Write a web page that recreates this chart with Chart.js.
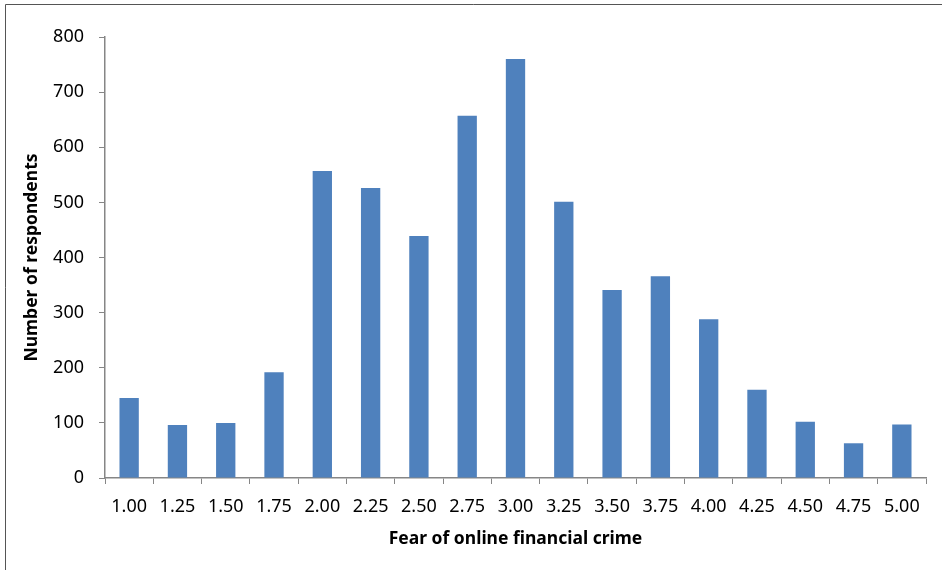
<!DOCTYPE html>
<html>
<head>
<meta charset="utf-8">
<script src="https://cdn.jsdelivr.net/npm/chart.js@4"></script>
<style>
  html, body { margin: 0; padding: 0; background: #fff; }
  #wrap { width: 942px; height: 570px; position: relative; }
</style>
</head>
<body>
<div id="wrap"><canvas id="chart" width="942" height="570"></canvas></div>
<script>
// --- data ---
const scoreLabels = ['1.00', '1.25', '1.50', '1.75', '2.00', '2.25', '2.50', '2.75', '3.00',
                     '3.25', '3.50', '3.75', '4.00', '4.25', '4.50', '4.75', '5.00'];
const respondents = [145, 96, 100, 192, 557, 526, 439, 657, 760,
                     501, 341, 366, 288, 160, 102, 63, 97];
const yTicks = [0, 100, 200, 300, 400, 500, 600, 700, 800];

const axisGrey = '#868686';
const barBlue = '#4F81BD';

// thin frame on left/top edges (image is cropped on the other sides)
const framePlugin = {
  id: 'frame',
  afterDraw(chart) {
    const ctx = chart.ctx;
    ctx.save();
    ctx.strokeStyle = '#555';
    ctx.lineWidth = 1;
    ctx.beginPath();
    ctx.moveTo(5.5, 570);
    ctx.lineTo(5.5, 4.5);
    ctx.lineTo(942, 4.5);
    ctx.stroke();
    ctx.restore();
  }
};

new Chart(document.getElementById('chart'), {
  type: 'bar',
  data: {
    labels: scoreLabels,
    datasets: [{
      data: respondents,
      backgroundColor: barBlue,
      borderWidth: 0,
      categoryPercentage: 1.0,
      barPercentage: 0.4
    }]
  },
  plugins: [framePlugin],
  options: {
    responsive: false,
    animation: false,
    devicePixelRatio: 1,
    layout: { padding: { top: 37, right: 16, left: 0, bottom: 0 } },
    plugins: {
      legend: { display: false },
      tooltip: { enabled: false }
    },
    scales: {
      x: {
        grid: { drawOnChartArea: false, drawTicks: true, tickLength: 6, color: axisGrey, offset: true },
        border: { display: true, color: axisGrey, width: 1.5 },
        ticks: { color: '#000', font: { family: 'Noto Sans', size: 18 }, padding: 12, maxRotation: 0, autoSkip: false },
        title: {
          display: true,
          text: 'Fear of online financial crime',
          color: '#000',
          font: { family: 'Noto Sans', size: 17.5, weight: 'bold' },
          padding: { top: 0, bottom: 20 }
        },
        afterFit(scale) { scale.height = 92; }
      },
      y: {
        min: 0,
        max: 800,
        afterBuildTicks(scale) { scale.ticks = yTicks.map(v => ({ value: v })); },
        grid: { drawOnChartArea: false, drawTicks: true, tickLength: 6, color: axisGrey },
        border: { display: true, color: axisGrey, width: 1.5 },
        ticks: { color: '#000', font: { family: 'Noto Sans', size: 18 }, padding: 15 },
        title: {
          display: true,
          text: 'Number of respondents',
          color: '#000',
          font: { family: 'Noto Sans', size: 17.5, weight: 'bold' },
          padding: { top: 22, bottom: 0 }
        },
        afterFit(scale) { scale.width = 105; }
      }
    }
  }
});
</script>
</body>
</html>
